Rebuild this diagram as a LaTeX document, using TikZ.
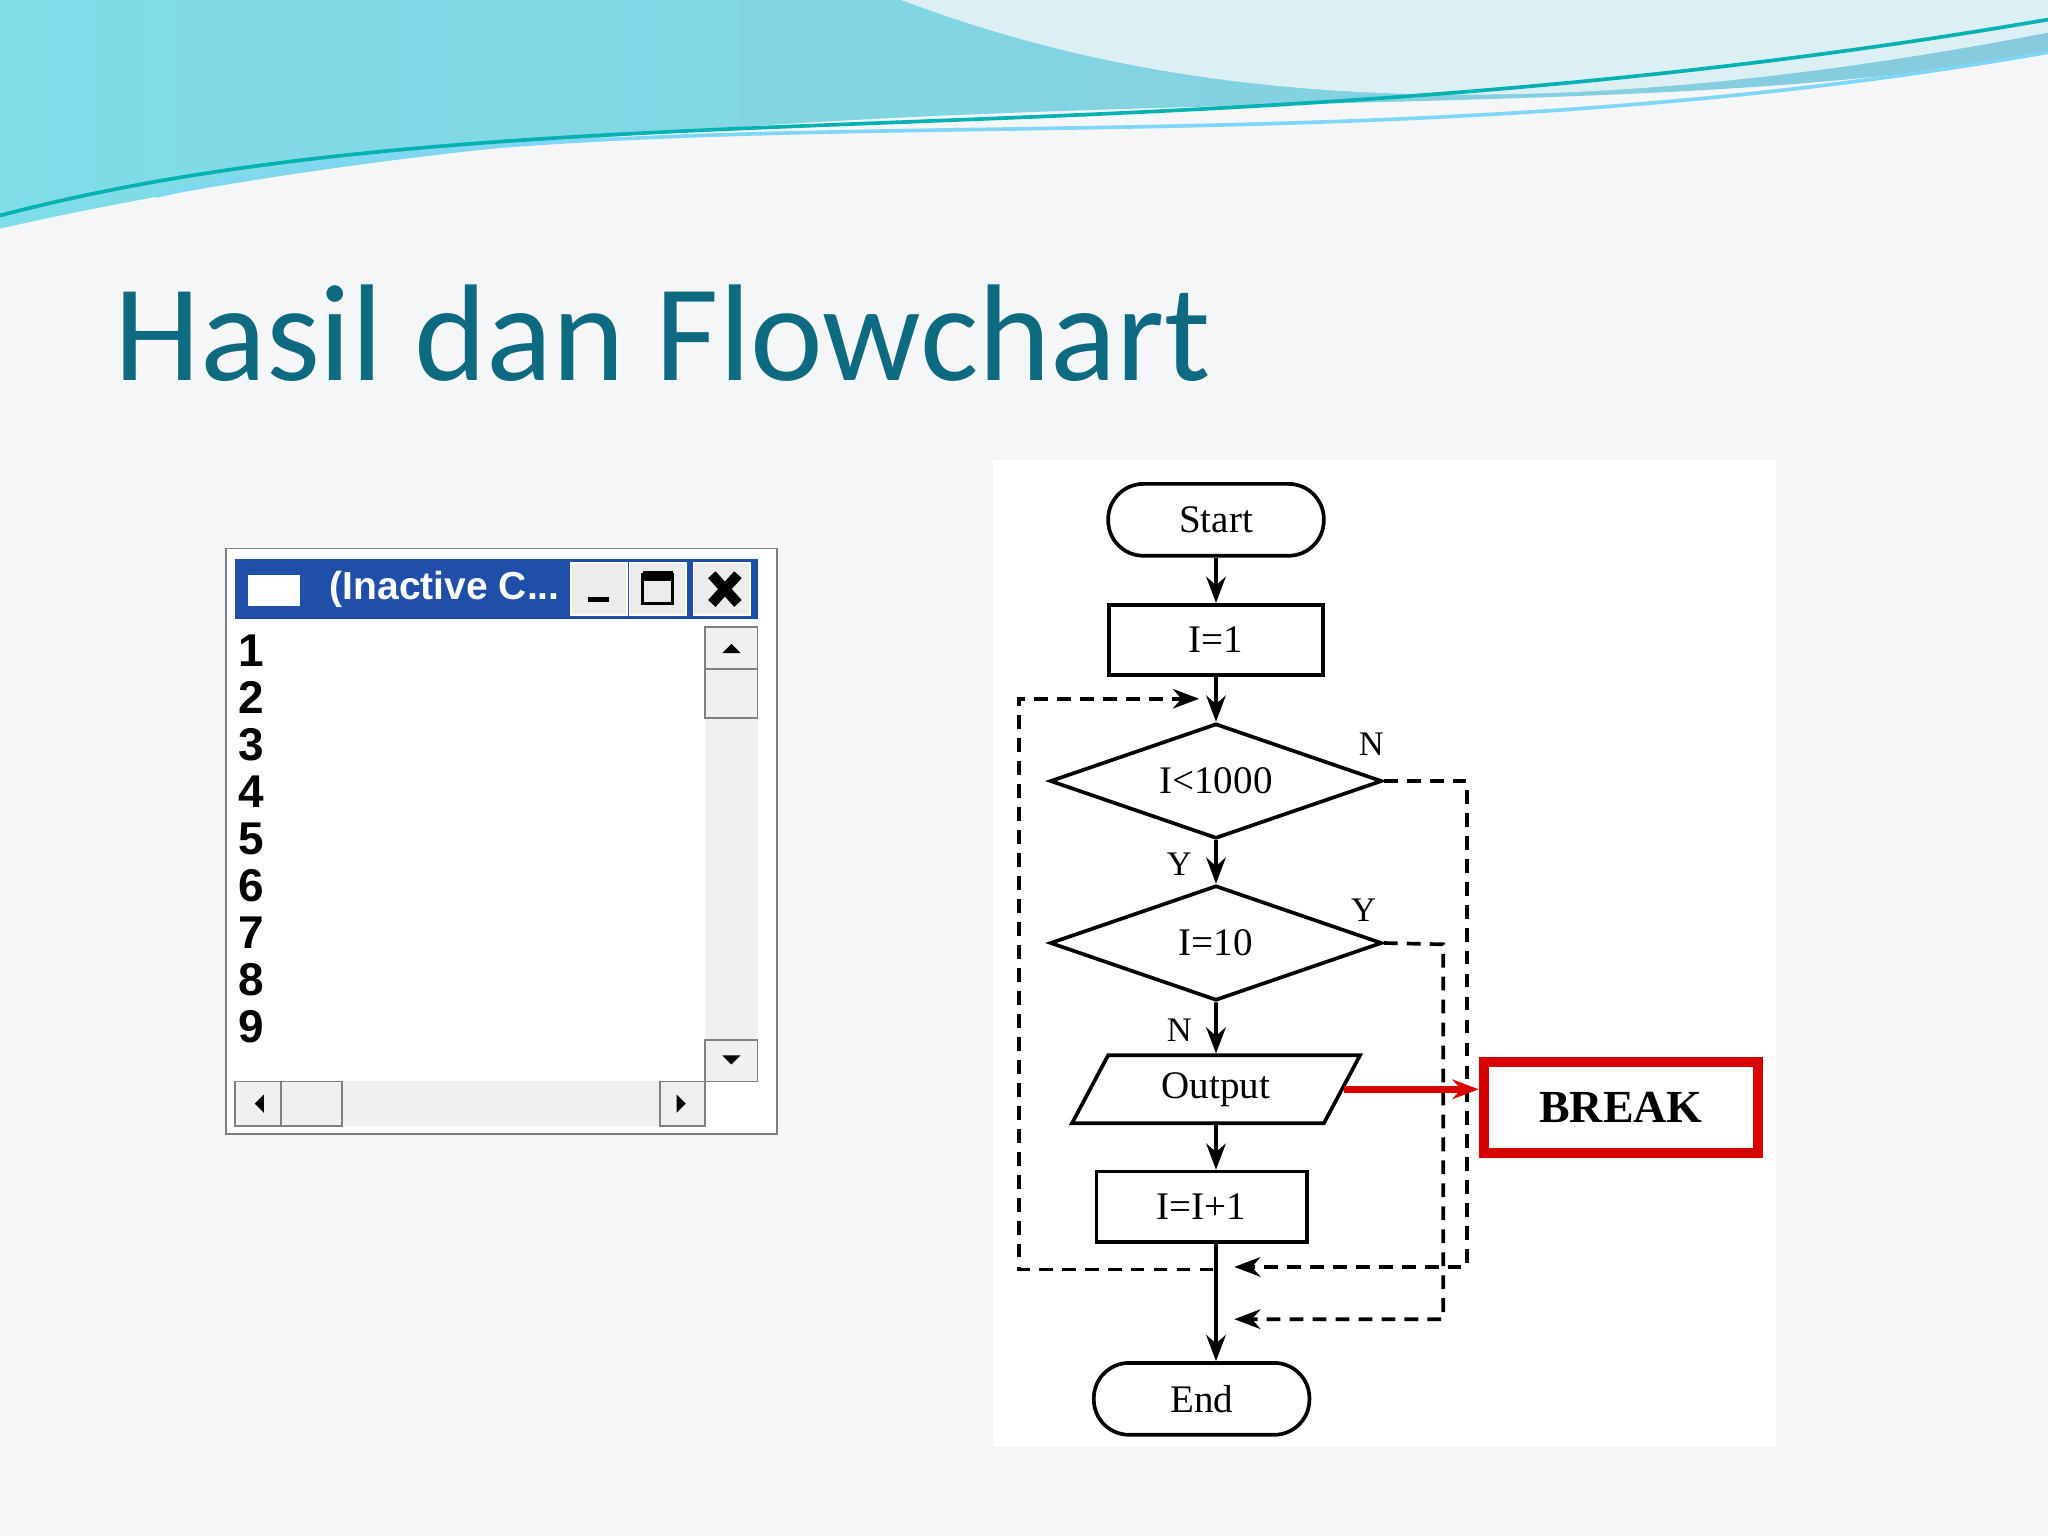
\documentclass[tikz,border=0pt]{standalone}
\usepackage{fontspec}
\setmainfont{Liberation Serif}
\newfontfamily\titlefont{Carlito}
\newfontfamily\winfont{Liberation Sans}
\usetikzlibrary{shapes.geometric,arrows.meta}
\definecolor{teal1}{HTML}{0E6A80}
\definecolor{wave}{HTML}{86CBDD}
\definecolor{wave2}{HTML}{7FDDE8}
\definecolor{winblue}{HTML}{1F4FA8}
\definecolor{slidebg}{HTML}{F4F6F8}
\tikzset{
 fc/.style={draw,thick,font=\fontsize{8.5}{10}\selectfont,inner sep=0pt},
 term/.style={fc,rounded corners=0.27cm,minimum width=1.65cm,minimum height=0.55cm},
 box/.style={fc,minimum width=1.64cm,minimum height=0.54cm},
 dia/.style={fc,diamond,aspect=2.9,minimum width=2.54cm,minimum height=0.88cm},
 para/.style={fc,trapezium,trapezium left angle=62,trapezium right angle=118,minimum width=2.0cm,minimum height=0.52cm},
 arr/.style={thick,-{Stealth[length=2mm]}},
 dsh/.style={thick,dashed,dash pattern=on 3pt off 2pt},
 lbl/.style={font=\fontsize{7.5}{9}\selectfont},
 num/.style={font=\winfont\bfseries\fontsize{10}{11}\selectfont,anchor=west,inner sep=0pt}
}
\begin{document}
\begin{tikzpicture}[x=0.01cm,y=-0.01cm]
\fill[slidebg] (0,0) rectangle (1568,1176);
\useasboundingbox (0,0) rectangle (1568,1176);
% header wave
\shade[left color=wave2,right color=wave] (0,0) -- (1568,0) -- (1568,40) .. controls (1200,110) and (600,40) .. (0,175) -- cycle;
\fill[white!70!wave] (690,0) .. controls (850,60) and (1100,115) .. (1568,25) -- (1568,0) -- cycle;
\draw[teal!60!cyan,thick] (0,165) .. controls (400,60) and (900,130) .. (1568,15);
\draw[cyan!50,thick] (120,150) .. controls (500,60) and (1000,140) .. (1568,40);
\node[anchor=west,text=teal1,font=\titlefont\fontsize{30}{34}\selectfont] (title) at (75,255) {Hasil dan Flowchart};
% window
\draw[gray,fill=white] (173,420) rectangle (595,868);
\fill[winblue] (180,428) rectangle (580,474);
\fill[white] (190,440) rectangle (230,464);
\node[anchor=west,text=white,font=\winfont\bfseries\fontsize{8.5}{10}\selectfont] (wt) at (240,451) {(Inactive C...};
\foreach \bx in {437,482,531}{\draw[white,fill=gray!15] (\bx,431) rectangle +(43,40);}
\draw[very thick] (450,459) -- (466,459);
\draw[thick] (492,440) rectangle (515,462); \draw[line width=2pt] (492,441) -- (515,441);
\draw[line width=2.2pt] (545,440) -- (565,462) (565,440) -- (545,462);
\foreach \n [count=\k from 0] in {1,...,9}{\node[num] (n\n) at (182,498+36*\k) {\n};}
\fill[gray!12] (540,480) rectangle (580,828);
\draw[gray] (540,480) rectangle (580,512) (540,512) rectangle (580,550) (540,796) rectangle (580,828);
\fill (553,500) -- (567,500) -- (560,493) -- cycle;
\fill (553,808) -- (567,808) -- (560,815) -- cycle;
\fill[gray!12] (180,828) rectangle (540,862);
\draw[gray] (180,828) rectangle (215,862) (215,828) rectangle (262,862) (505,828) rectangle (540,862);
\fill (202,838) -- (202,852) -- (195,845) -- cycle;
\fill (518,838) -- (518,852) -- (525,845) -- cycle;
% flowchart area
\fill[white] (760,352) rectangle (1360,1108);
\node[term] (start) at (931,398) {Start};
\node[box] (i1) at (931,490) {I=1};
\node[dia] (d1) at (931,598) {I<1000};
\node[dia] (d2) at (931,722) {I=10};
\node[para] (out) at (931,834) {Output};
\node[box,minimum width=1.61cm] (inc) at (920,924) {I=I+1};
\node[term] (end) at (920,1071) {End};
\node[draw=red!85!black,line width=2.2pt,minimum width=2.1cm,minimum height=0.7cm,font=\bfseries\fontsize{10}{11}\selectfont] (brk) at (1241,848) {BREAK};
\draw[arr] (start.south) -- (i1.north);
\draw[arr] (i1.south) -- (d1.north);
\draw[arr] (d1.south) -- (d2.north);
\draw[arr] (d2.south) -- (out.north);
\draw[arr] (out.south) -- (out.south |- inc.north);
\draw[arr] (inc.south -| out.south) -- (out.south |- end.north);
\coordinate (lb) at (929,972);
\draw[dsh,-{Stealth[length=2mm]}] (lb) -- (780,972) -- (780,535) -- (918,535);
\draw[dsh,-{Stealth[length=2mm]}] (d1.east) -- (1123,598) -- (1123,970) -- (945,970);
\draw[dsh,-{Stealth[length=2mm]}] (d2.east) -- (1105,723) -- (1105,1010) -- (945,1010);
\draw[red!85!black,line width=1.6pt,-{Stealth[length=2mm]}] (out.east) -- (brk.west |- out.east);
\node[lbl] (ln1) at (1050,570) {N};
\node[lbl] (ly1) at (903,662) {Y};
\node[lbl] (ly2) at (1044,697) {Y};
\node[lbl] (ln2) at (903,789) {N};
\end{tikzpicture}
\end{document}
